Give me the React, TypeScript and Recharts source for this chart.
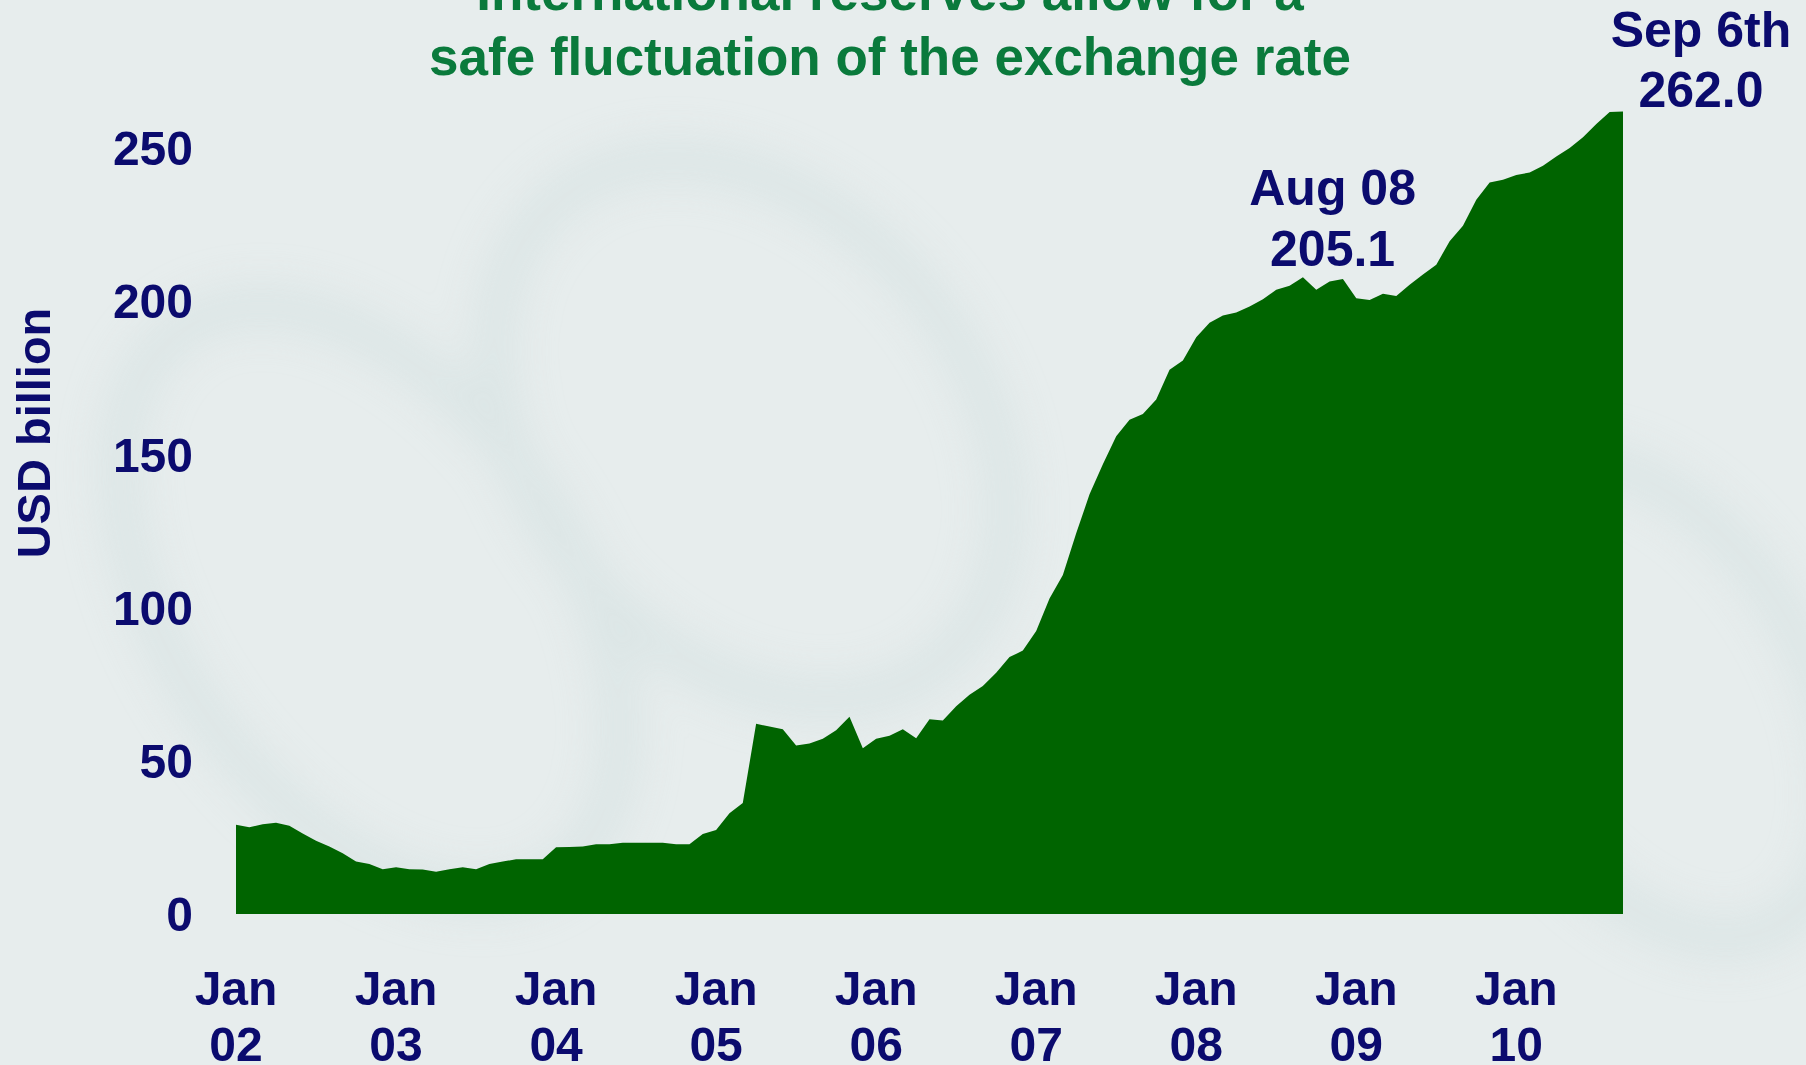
import React from "react";
import { AreaChart, Area, XAxis, YAxis, ReferenceDot } from "recharts";

// Monthly international reserves, USD billion, Jan 2002 .. Sep 2010 (last point = Sep 6th)
const MONTH_NAMES = ["Jan", "Feb", "Mar", "Apr", "May", "Jun", "Jul", "Aug", "Sep", "Oct", "Nov", "Dec"];
const YEARS = ["02", "03", "04", "05", "06", "07", "08", "09", "10"];

const reserves = [
  // 2002
  29.1, 28.3, 29.3, 29.8, 28.8, 26.3, 23.9, 22.0, 19.8, 17.1, 16.3, 14.6,
  // 2003
  15.3, 14.6, 14.5, 13.8, 14.6, 15.3, 14.6, 16.3, 17.1, 17.9, 17.9, 17.9,
  // 2004
  21.8, 21.9, 22.0, 22.8, 22.8, 23.3, 23.3, 23.3, 23.3, 22.8, 22.8, 26.1,
  // 2005
  27.4, 32.9, 36.2, 62.1, 61.2, 60.3, 55.0, 55.7, 57.2, 60.0, 64.4, 54.1,
  // 2006
  57.2, 58.2, 60.3, 57.4, 63.6, 63.2, 67.8, 71.6, 74.4, 78.8, 83.9, 86.0,
  // 2007
  92.4, 103.0, 110.7, 124.3, 137.0, 146.8, 156.0, 161.4, 163.2, 168.0, 177.7, 180.7,
  // 2008
  188.3, 193.0, 195.4, 196.4, 198.3, 200.7, 203.8, 205.1, 207.9, 203.8, 206.5, 207.3,
  // 2009
  201.0, 200.5, 202.5, 201.8, 205.4, 208.8, 212.0, 219.6, 224.7, 233.2, 238.8, 239.7,
  // 2010
  241.3, 242.1, 244.3, 247.3, 250.1, 253.6, 257.9, 261.8, 262.0,
];

const yTicks = [0, 50, 100, 150, 200, 250];

const periods = YEARS.flatMap((y) => MONTH_NAMES.map((m) => `${m} ${y}`));
const data = reserves.map((v, i) => ({ period: periods[i], value: v }));

const NAVY = "#0b0b6e";
const GREEN_TITLE = "#0a7a3c";
const AREA_GREEN = "#006400";
const FONT = '"Liberation Sans", Arial, sans-serif';

// two-line "Jan / 02" tick
function MonthTick(props: any) {
  const { x, y, payload } = props;
  const [m, yr] = String(payload.value).split(" ");
  return (
    <g transform={`translate(${x},${y})`}>
      <text textAnchor="middle" y={91} fill={NAVY} fontSize={48} fontWeight="bold" fontFamily={FONT}>
        {m}
      </text>
      <text textAnchor="middle" y={147} fill={NAVY} fontSize={48} fontWeight="bold" fontFamily={FONT}>
        {yr}
      </text>
    </g>
  );
}

function note(line1: string, line2: string, dx: number, dy1: number, dy2: number) {
  return (props: any) => {
    const { cx, cy } = props;
    return (
      <g>
        <text x={cx + dx} y={cy + dy1} textAnchor="middle" fill={NAVY} fontSize={50} fontWeight="bold" fontFamily={FONT}>
          {line1}
        </text>
        <text x={cx + dx} y={cy + dy2} textAnchor="middle" fill={NAVY} fontSize={50} fontWeight="bold" fontFamily={FONT}>
          {line2}
        </text>
      </g>
    );
  };
}

export default function App() {
  return (
    <div style={{ position: "fixed", left: 0, top: 0, width: 1806, height: 1065, background: "#e7eded", overflow: "hidden" }}>
      {/* faint banknote watermark */}
      <svg width={1806} height={1065} style={{ position: "absolute", left: 0, top: 0 }}>
        <defs>
          <filter id="blur">
            <feGaussianBlur stdDeviation="20" />
          </filter>
        </defs>
        <g filter="url(#blur)" fill="none" stroke="#d4e1e1" strokeWidth={40} opacity={0.6}>
          <ellipse cx={370} cy={600} rx={200} ry={330} transform="rotate(-35 370 600)" />
          <ellipse cx={750} cy={430} rx={220} ry={300} transform="rotate(-40 750 430)" />
          <ellipse cx={1650} cy={700} rx={160} ry={260} transform="rotate(-30 1650 700)" />
        </g>
        <text x={890} y={10} textAnchor="middle" fill={GREEN_TITLE} fontSize={53} fontWeight="bold" fontFamily={FONT}>
          International reserves allow for a
        </text>
        <text x={890} y={75} textAnchor="middle" fill={GREEN_TITLE} fontSize={53} fontWeight="bold" fontFamily={FONT}>
          safe fluctuation of the exchange rate
        </text>
        <text
          x={50}
          y={433}
          transform="rotate(-90 50 433)"
          textAnchor="middle"
          fill={NAVY}
          fontSize={47}
          fontWeight="bold"
          fontFamily={FONT}
        >
          USD billion
        </text>
      </svg>

      <div style={{ position: "absolute", left: 0, top: 0 }}>
        <AreaChart width={1806} height={1065} data={data} margin={{ top: 87, right: 183, left: 0, bottom: 0 }}>
          <XAxis
            dataKey="period"
            height={151}
            axisLine={false}
            tickLine={false}
            tickSize={0}
            tickMargin={0}
            interval={11}
            tick={<MonthTick />}
          />
          <YAxis
            width={236}
            domain={[0, 270]}
            ticks={yTicks}
            axisLine={false}
            tickLine={false}
            tickSize={0}
            tickMargin={43}
            tick={{ fill: NAVY, fontSize: 48, fontWeight: "bold", fontFamily: FONT }}
          />
          <Area
            type="linear"
            dataKey="value"
            stroke="none"
            fill={AREA_GREEN}
            fillOpacity={1}
            isAnimationActive={false}
          />
          <ReferenceDot x="Aug 08" y={205.1} r={0} ifOverflow="visible" shape={note("Aug 08", "205.1", 43, -81, -20)} />
          <ReferenceDot x="Sep 10" y={262.0} r={0} ifOverflow="visible" shape={note("Sep 6th", "262.0", 78, -65, -5)} />
        </AreaChart>
      </div>
    </div>
  );
}
